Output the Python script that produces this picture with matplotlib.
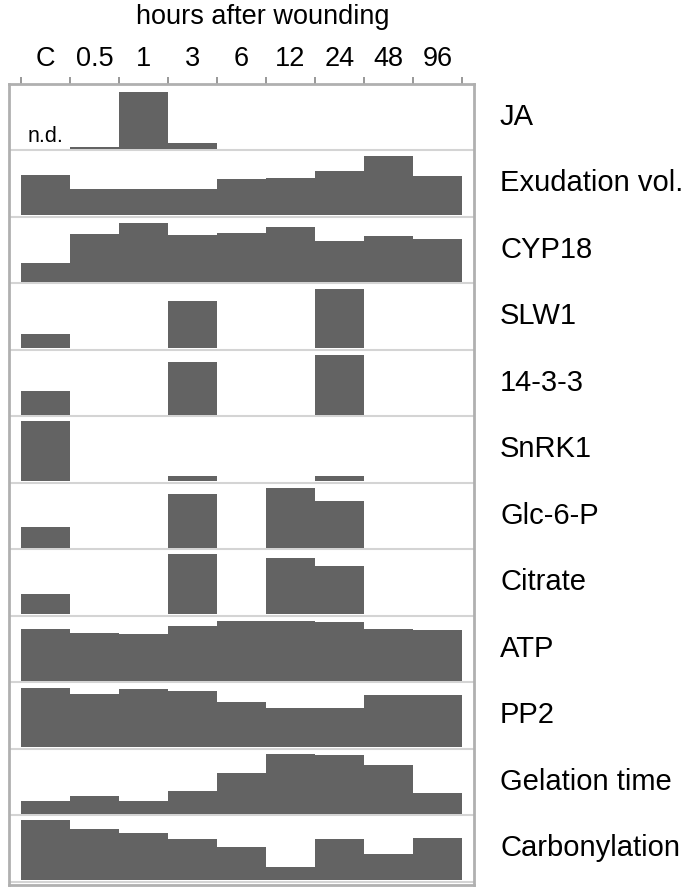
import matplotlib
matplotlib.use("Agg")
import matplotlib.pyplot as plt
import matplotlib.transforms as mtransforms
import numpy as np

plt.rcParams['font.family'] = ['Liberation Sans', 'DejaVu Sans']

times = ["C", "0.5", "1", "3", "6", "12", "24", "48", "96"]
rows = ["JA", "Exudation vol.", "CYP18", "SLW1", "14-3-3", "SnRK1",
        "Glc-6-P", "Citrate", "ATP", "PP2", "Gelation time", "Carbonylation"]

# relative heights (arbitrary units, max ~60)
ja            = [0, 1.5, 57, 6, 0, 0, 0, 0, 0]
exudation     = [40, 26, 26, 25.6, 35.6, 37, 43.6, 59, 38.6]
cyp18         = [19, 47.6, 58.6, 46.6, 48.3, 54.6, 40.6, 45.3, 43]
slw1          = [14, 0, 0, 47, 0, 0, 59.3, 0, 0]
p14_3_3       = [23.3, 0, 0, 52.7, 0, 0, 59.7, 0, 0]
snrk1         = [60, 0, 0, 5, 0, 0, 5, 0, 0]
glc6p         = [20.7, 0, 0, 53.3, 0, 59.7, 47, 0, 0]
citrate       = [20.6, 0, 0, 60, 0, 56.6, 48, 0, 0]
atp           = [51.4, 47.4, 46.4, 55, 60, 59.4, 58.4, 51.7, 50.7]
pp2           = [59.4, 53.4, 57.7, 55.7, 45, 39, 39.4, 52.4, 51.7]
gelation      = [12.7, 18, 13, 22.3, 40.7, 59.7, 59, 48.7, 20.3]
carbonylation = [60, 50.7, 47.3, 41, 33.3, 13, 41, 26, 41.7]

series = [ja, exudation, cyp18, slw1, p14_3_3, snrk1, glc6p, citrate,
          atp, pp2, gelation, carbonylation]

W, H = 697, 890
fig = plt.figure(figsize=(W / 100, H / 100), dpi=100)
ax = fig.add_axes([9 / W, 5 / H, (474 - 9) / W, (885 - 83.5) / H])

row_px = 66.5
scale = 1.0 / row_px
base_off = 1.5 * scale
bar_color = "#636363"
x = np.arange(len(times))
n = len(rows)
lbl_tr = mtransforms.blended_transform_factory(fig.transFigure, ax.transData)

for i, (name, vals) in enumerate(zip(rows, series)):
    base = n - 1 - i
    v = np.array(vals, dtype=float) * scale
    mask = v > 0
    ax.bar(x[mask], v[mask], width=1.0, bottom=base + base_off,
           color=bar_color, edgecolor="none", linewidth=0)
    ax.text(500 / W, base + 0.5, name, fontsize=21, va="center", ha="left",
            transform=lbl_tr, clip_on=False)
    if i > 0:
        ax.axhline(base + 1, color="#d4d4d4", linewidth=1.5, zorder=0)
ax.axhline(0, color="#d4d4d4", linewidth=1.5, zorder=0)

# n.d. label for JA control
ax.text(0.0, n - 1 + base_off + 0.02, "n.d.", fontsize=15.5, ha="center",
        va="bottom")

ax.set_xlim(-0.745, 8.745)
ax.set_ylim(-0.05, 12)
ax.set_yticks([])

ax.xaxis.tick_top()
ax.set_xticks(x)
ax.set_xticklabels(times, fontsize=19.5)
ax.tick_params(axis="x", which="major", length=0, pad=8)
ax.set_xticks(np.arange(len(times) + 1) - 0.5, minor=True)
ax.tick_params(axis="x", which="minor", length=5, width=1.3,
               color="#909090", direction="out", top=True, bottom=False)

for s in ax.spines.values():
    s.set_color("#b0b0b0")
    s.set_linewidth(2)

fig.text(263 / W, 1 - 17 / H, "hours after wounding", fontsize=19.5,
         ha="center", va="center")

fig.savefig("out.png", dpi=100)
